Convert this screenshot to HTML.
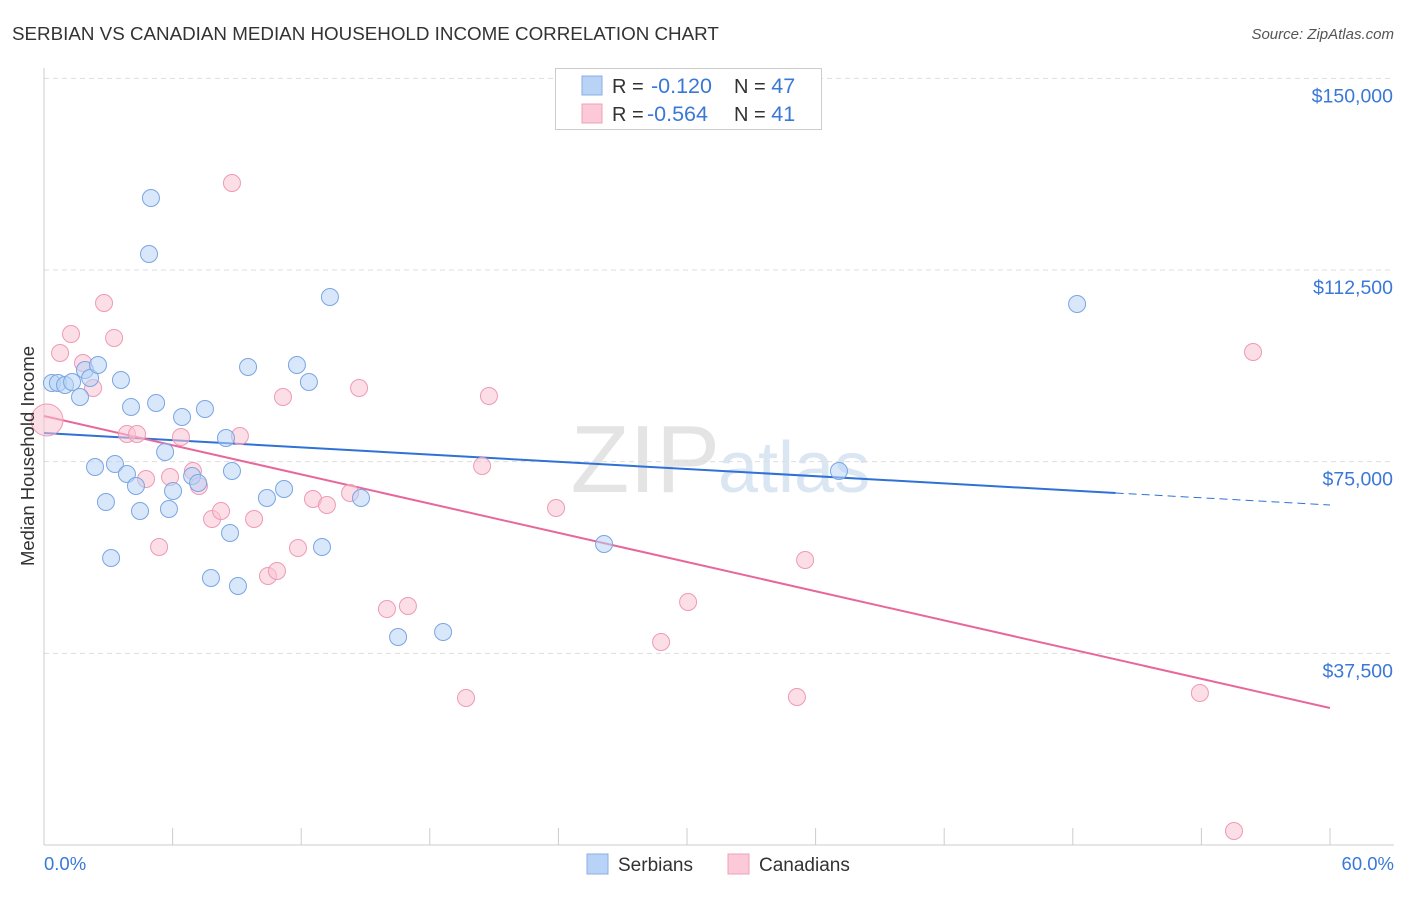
<!DOCTYPE html>
<html><head><meta charset="utf-8"><style>
body{margin:0;background:#fff;font-family:"Liberation Sans",sans-serif;}
svg text{font-family:"Liberation Sans",sans-serif;}
</style></head><body>
<svg id="chart" width="1406" height="892">
<text x="12" y="40" font-size="18.8" fill="#333">SERBIAN VS CANADIAN MEDIAN HOUSEHOLD INCOME CORRELATION CHART</text>
<text x="1394" y="39" font-size="15" fill="#555" font-style="italic" text-anchor="end">Source: ZipAtlas.com</text>
<text x="720" y="492" font-size="96" fill="#e4e4e4" text-anchor="end" font-family="Liberation Serif">ZIP</text>
<text x="718" y="492" font-size="72" fill="#dbe6f3">atlas</text>
<g id="grid"></g><g id="axes"></g><g id="lines"></g><g id="pts"></g>
<text x="34" y="456" font-size="18.5" fill="#333" text-anchor="middle" transform="rotate(-90 34 456)">Median Household Income</text>
<text x="44" y="870" font-size="18.5" fill="#3a78d8">0.0%</text>
<text x="1394" y="870" font-size="18.5" fill="#3a78d8" text-anchor="end">60.0%</text>
<g>
<rect x="555.5" y="68.5" width="266" height="61" fill="#fff" stroke="#ccc"/>
<rect x="582" y="76" width="20" height="19" fill="#b8d3f5" stroke="#88aee6"/>
<rect x="582" y="104" width="20" height="19" fill="#fcc9d8" stroke="#f0a0b8"/>
<text x="612" y="93" font-size="20" fill="#333">R = <tspan x="651" fill="#3a78d8" font-size="21.5">-0.120</tspan><tspan x="734">N = </tspan><tspan fill="#3a78d8" font-size="21.5">47</tspan></text>
<text x="612" y="121" font-size="20" fill="#333">R = <tspan x="647" fill="#3a78d8" font-size="21.5">-0.564</tspan><tspan x="734">N = </tspan><tspan fill="#3a78d8" font-size="21.5"> 41</tspan></text>
</g>
<g>
<rect x="587" y="854" width="21" height="20" fill="#b8d3f5" stroke="#88aee6"/>
<text x="618" y="871" font-size="19" fill="#333">Serbians</text>
<rect x="728" y="854" width="21" height="20" fill="#fcc9d8" stroke="#f0a0b8"/>
<text x="759" y="871" font-size="19" fill="#333">Canadians</text>
</g>
</svg>
<script>
const yTicks=[37500,75000,112500,150000];
const yTickLabels=["$37,500","$75,000","$112,500","$150,000"];
const xTicks=[0,6,12,18,24,30,36,42,48,54,60];
const serbX=[0.37,0.65,0.98,1.31,1.68,1.91,2.15,2.52,2.38,2.89,3.13,3.31,3.59,3.87,4.06,4.29,4.48,4.99,4.90,5.23,5.65,5.83,6.02,6.44,6.91,7.19,7.51,7.79,8.49,8.68,8.77,9.05,9.52,10.40,11.20,11.80,12.36,12.97,13.34,14.79,16.52,18.62,26.13,37.09,48.20];
const serbY=[90390,90390,90000,90590,87650,92930,91370,93910,73960,67110,56150,74540,90980,72590,85700,70240,65350,126590,115630,86480,76890,65740,69260,83740,72200,70830,85300,52240,79630,61040,73170,50670,93520,67890,69650,93910,90590,58300,107220,67890,40700,41670,58890,73170,105850];
const canX=[0.14,0.75,1.26,1.82,2.29,2.80,3.27,3.87,4.34,4.76,5.37,5.88,6.39,6.95,7.23,7.84,8.26,8.77,9.14,9.80,10.45,10.87,11.15,11.85,12.55,13.20,14.28,14.70,16.00,16.98,19.69,20.44,20.76,23.89,28.79,30.05,35.13,35.51,53.93,55.52,56.41];
const canY=[83150,96260,99980,94300,89410,106040,99200,80410,80410,71610,58300,72000,79830,73170,70240,63780,65350,129520,80020,63780,52630,53610,87650,58110,67690,66520,68870,89410,46170,46760,28760,74150,87850,65930,39720,47540,28960,55760,29740,2740,96450];
const serbTrend=[80610,68870]; // at 0% and 50%
const canTrend=[83930,26800]; // at 0% and 60%
const NS="http://www.w3.org/2000/svg";
const X=v=>44+v/60*1286, Y=v=>845-v/37500*191.67;
function mk(t,a,p){const e=document.createElementNS(NS,t);for(const k in a)e.setAttribute(k,a[k]);p.appendChild(e);return e;}
const grid=document.getElementById('grid'),axes=document.getElementById('axes'),lines=document.getElementById('lines'),pts=document.getElementById('pts');
yTicks.forEach((t,i)=>{
 const l=mk('line',{x1:44,x2:1394,y1:Y(t),y2:Y(t),stroke:'#ddd','stroke-dasharray':'5,4'},grid);
 
 
 const tx=mk('text',{x:1393,y:Y(t)+24,'font-size':19.5,fill:'#3a78d8','text-anchor':'end'},grid);
 tx.textContent=yTickLabels[i];
 
 
});
const ax=mk('line',{x1:44,x2:44,y1:68,y2:845,stroke:'#ccc'},axes);


const bx=mk('line',{x1:44,x2:1394,y1:845,y2:845,stroke:'#ccc'},axes);


xTicks.forEach(t=>{
 const l=mk('line',{x1:X(t),x2:X(t),y1:828,y2:845,stroke:'#ccc'},axes);
 
 
});
function dot(x,y,r,fill,stroke,name){
 const c=mk('circle',{cx:X(x),cy:Y(y),r:r,fill:fill,'fill-opacity':0.55,stroke:stroke,'stroke-width':1},pts);
 
 
}
canX.forEach((x,i)=>dot(x,canY[i],i===0?16:8.5,'#fac3d3','#ef9ab5','canadian-point'));
serbX.forEach((x,i)=>dot(x,serbY[i],8.5,'#b8d3f5','#7aa6e3','serbian-point'));
const sl=mk('line',{x1:X(0),y1:Y(serbTrend[0]),x2:X(50),y2:Y(serbTrend[1]),stroke:'#2f72d6','stroke-width':2},lines);


const slope=(serbTrend[1]-serbTrend[0])/50;
const sd=mk('line',{x1:X(50),y1:Y(serbTrend[1]),x2:X(60),y2:Y(serbTrend[1]+slope*10),stroke:'#2f72d6','stroke-width':1,'stroke-dasharray':'8,5'},lines);


const cl=mk('line',{x1:X(0),y1:Y(canTrend[0]),x2:X(60),y2:Y(canTrend[1]),stroke:'#e8679a','stroke-width':2},lines);


</script>
</body></html>
